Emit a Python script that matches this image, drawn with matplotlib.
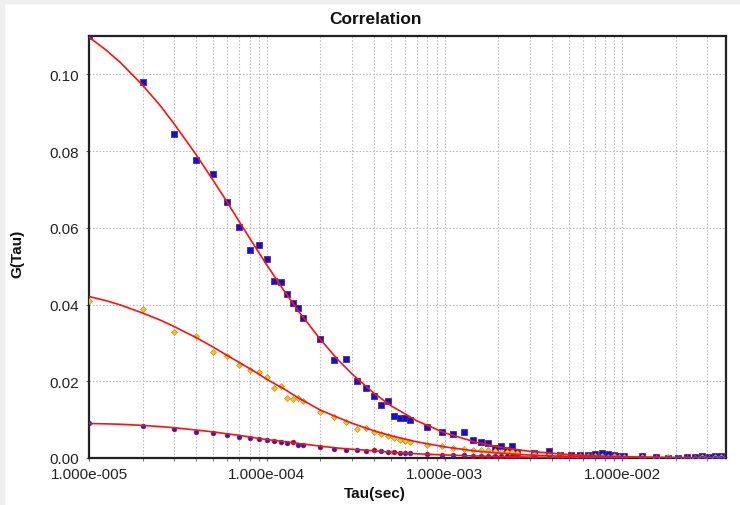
import math
import matplotlib
matplotlib.use("Agg")
import matplotlib.pyplot as plt
from matplotlib.ticker import FixedLocator, LogLocator, NullFormatter, FuncFormatter
from matplotlib.patches import Rectangle

plt.rcParams['font.family'] = ['Liberation Sans', 'DejaVu Sans']

# lag times (sec) of the correlator channels
tau = [1e-5, 2e-5, 3e-5, 4e-5, 5e-5, 6e-5, 7e-5, 8e-5, 9e-5, 1.0e-4,
       1.1e-4, 1.2e-4, 1.3e-4, 1.4e-4, 1.5e-4, 1.6e-4,
       2.0e-4, 2.4e-4, 2.8e-4, 3.2e-4, 3.6e-4, 4.0e-4, 4.4e-4, 4.8e-4,
       5.2e-4, 5.6e-4, 6.0e-4, 6.4e-4,
       8.0e-4, 9.6e-4, 1.12e-3, 1.28e-3, 1.44e-3, 1.60e-3, 1.76e-3, 1.92e-3,
       2.08e-3, 2.24e-3, 2.40e-3, 2.56e-3,
       3.20e-3, 3.84e-3, 4.48e-3, 5.12e-3, 5.76e-3, 6.40e-3, 7.04e-3, 7.68e-3,
       8.32e-3, 8.96e-3, 9.60e-3, 1.024e-2,
       1.28e-2, 1.536e-2, 1.792e-2, 2.048e-2, 2.304e-2, 2.56e-2, 2.816e-2,
       3.072e-2, 3.328e-2, 3.584e-2]

g_high = [0.1099, 0.0980, 0.0844, 0.0778, 0.0739, 0.0666, 0.0602, 0.0543, 0.0556, 0.0519,
          0.0462, 0.0460, 0.0427, 0.0404, 0.0392, 0.0366,
          0.0310, 0.0256, 0.0257, 0.0200, 0.0182, 0.0162, 0.0139, 0.0149,
          0.0110, 0.0104, 0.0104, 0.0100,
          0.0082, 0.0069, 0.0063, 0.0067, 0.0047, 0.0043, 0.0038, 0.0025,
          0.0030, 0.0020, 0.0032, 0.0015,
          0.0012, 0.0017, 0.0008, 0.0008, 0.0009, 0.0009, 0.0011, 0.0013,
          0.0010, 0.0008, 0.0005, 0.0006,
          0.0005, 0.0002, 0.0001, 0.0001, 0.0002, 0.0003, 0.0004, 0.0003,
          0.0004, 0.0005]

g_mid = [0.0408, 0.0388, 0.0329, 0.0317, 0.0277, 0.0265, 0.0242, 0.0230, 0.0223, 0.0211,
         0.0182, 0.0187, 0.0156, 0.0154, 0.0156, 0.0148,
         0.0119, 0.0106, 0.0095, 0.0076, 0.0078, 0.0069, 0.0063, 0.0058,
         0.0052, 0.0048, 0.0045, 0.0043,
         0.0035, 0.0032, 0.0025, 0.0023, 0.0022, 0.0020, 0.0020, 0.0017,
         0.0016, 0.0015, 0.0016, 0.0013,
         0.0010, 0.0008, 0.0007, 0.0006, 0.0005, 0.0005, 0.0004, 0.0004,
         0.0003, 0.0004, 0.0003, 0.0002,
         0.0002, 0.0001, 0.0002, 0.0001, 0.0000, 0.0001, 0.0002, 0.0001,
         0.0002, 0.0002]

g_low = [0.0090, 0.0084, 0.0075, 0.0067, 0.0065, 0.0060, 0.0056, 0.0053, 0.0049, 0.0048,
         0.0045, 0.0041, 0.0038, 0.0043, 0.0033, 0.0033,
         0.0029, 0.0023, 0.0021, 0.0021, 0.0019, 0.0020, 0.0017, 0.0016,
         0.0015, 0.0014, 0.0013, 0.0012,
         0.0010, 0.0008, 0.0008, 0.0007, 0.0006, 0.0005, 0.0005, 0.0005,
         0.0004, 0.0004, 0.0004, 0.0003,
         0.0003, 0.0002, 0.0002, 0.0002, 0.0001, 0.0002, 0.0001, 0.0001,
         0.0001, 0.0001, 0.0000, 0.0001,
         0.0000, 0.0001, 0.0000, 0.0000, 0.0001, 0.0000, 0.0001, 0.0000,
         0.0001, 0.0001]

tau_fit = [1e-5, 1.25e-5, 1.5e-5, 2e-5, 2.5e-5, 3e-5, 4e-5, 5e-5, 6e-5, 7e-5,
           8.5e-5, 1e-4, 1.25e-4, 1.5e-4, 2e-4, 2.5e-4, 3e-4, 4e-4, 5e-4, 7e-4,
           1e-3, 1.5e-3, 2e-3, 3e-3, 5e-3, 7e-3, 1e-2, 2e-2, 3.8e-2]
fit_high = [0.1097, 0.1063, 0.1031, 0.0972, 0.0920, 0.0872, 0.0791, 0.0723, 0.0666, 0.0616,
            0.0554, 0.0503, 0.0436, 0.0384, 0.0309, 0.0257, 0.0220, 0.0169, 0.0136, 0.00966,
            0.00656, 0.00411, 0.00290, 0.00174, 0.00088, 0.00056, 0.00034, 0.00012, 0.00005]
fit_mid = [0.0421, 0.0410, 0.0399, 0.0378, 0.0360, 0.0343, 0.0314, 0.0289, 0.0267, 0.0249,
           0.0226, 0.0205, 0.0180, 0.0157, 0.0125, 0.0106, 0.0091, 0.0071, 0.0058, 0.0042,
           0.0029, 0.0018, 0.0013, 0.00078, 0.0004, 0.00025, 0.00015, 0.00006, 0.00002]
fit_low = [0.0090, 0.0089, 0.0088, 0.0085, 0.0082, 0.0079, 0.0073, 0.0068, 0.0063, 0.0059,
           0.0053, 0.0048, 0.0043, 0.0038, 0.0031, 0.0026, 0.0023, 0.0019, 0.0015, 0.0011,
           0.0008, 0.00052, 0.00038, 0.00024, 0.00012, 0.00008, 0.00005, 0.00002, 0.00001]

fig = plt.figure(figsize=(7.4, 5.06), dpi=100)
fig.patch.set_facecolor('white')
# thin grey window frame along top and left
fig.patches.append(Rectangle((0, 1 - 4/506), 1, 4/506, transform=fig.transFigure,
                             color='#efefef', zorder=0))
fig.patches.append(Rectangle((0, 0), 4/740, 1, transform=fig.transFigure,
                             color='#efefef', zorder=0))

ax = fig.add_axes([89/740, 47/506, 637/740, 422/506])
ax.set_xscale('log')
ax.set_xlim(1e-5, 0.0382)
ax.set_ylim(0, 0.11)

ax.plot(tau, g_high, linestyle='none', marker='s', markersize=4.3,
        markerfacecolor='#1212cc', markeredgecolor='#5a2a78', markeredgewidth=0.6, zorder=3)
ax.plot(tau, g_mid, linestyle='none', marker='D', markersize=3.0,
        markerfacecolor='#f2c81e', markeredgecolor='#d08a20', markeredgewidth=0.5, zorder=3)
ax.plot(tau, g_low, linestyle='none', marker='o', markersize=3.4,
        markerfacecolor='#2020c0', markeredgecolor='#6a2a7a', markeredgewidth=0.5, zorder=3)

for fit in (fit_high, fit_mid, fit_low):
    ax.plot(tau_fit, fit, color='#ff1010', linewidth=1.2, zorder=4)

ax.xaxis.set_major_locator(FixedLocator([1e-5, 1e-4, 1e-3, 1e-2]))
ax.xaxis.set_minor_locator(LogLocator(base=10, subs=range(2, 10), numticks=20))
ax.xaxis.set_minor_formatter(NullFormatter())
ax.xaxis.set_major_formatter(FuncFormatter(
    lambda v, p: '1.000e-%03d' % (-int(round(math.log10(v))))))
ax.set_yticks([0.0, 0.02, 0.04, 0.06, 0.08, 0.10])
ax.yaxis.set_major_formatter(FuncFormatter(lambda v, p: '%.2f' % v))

ax.grid(True, which='both', axis='x', color='#c0c0c0', linestyle=(0, (1.5, 1.5)), linewidth=0.8)
ax.grid(True, which='major', axis='y', color='#c0c0c0', linestyle=(0, (1.5, 1.5)), linewidth=0.8)
ax.set_axisbelow(True)

ax.tick_params(axis='both', which='both', length=2, color='#666666',
               labelsize=11, labelcolor='#222222')
ax.tick_params(axis='x', which='major', pad=4.5)
ax.tick_params(axis='y', pad=5)
for s in ax.spines.values():
    s.set_linewidth(1.6)
    s.set_color('#222222')

fig.text(375/740, 1 - 19/506, 'Correlation', ha='center', va='center',
         fontsize=12.5, fontweight='bold', color='#111111')
fig.text(375/740, 1 - 494/506, 'Tau(sec)', ha='center', va='center',
         fontsize=11, fontweight='bold', color='#111111')
fig.text(17/740, 1 - 254/506, 'G(Tau)', ha='center', va='center', rotation=90,
         fontsize=11, fontweight='bold', color='#111111')

fig.savefig('out.png', dpi=100)
